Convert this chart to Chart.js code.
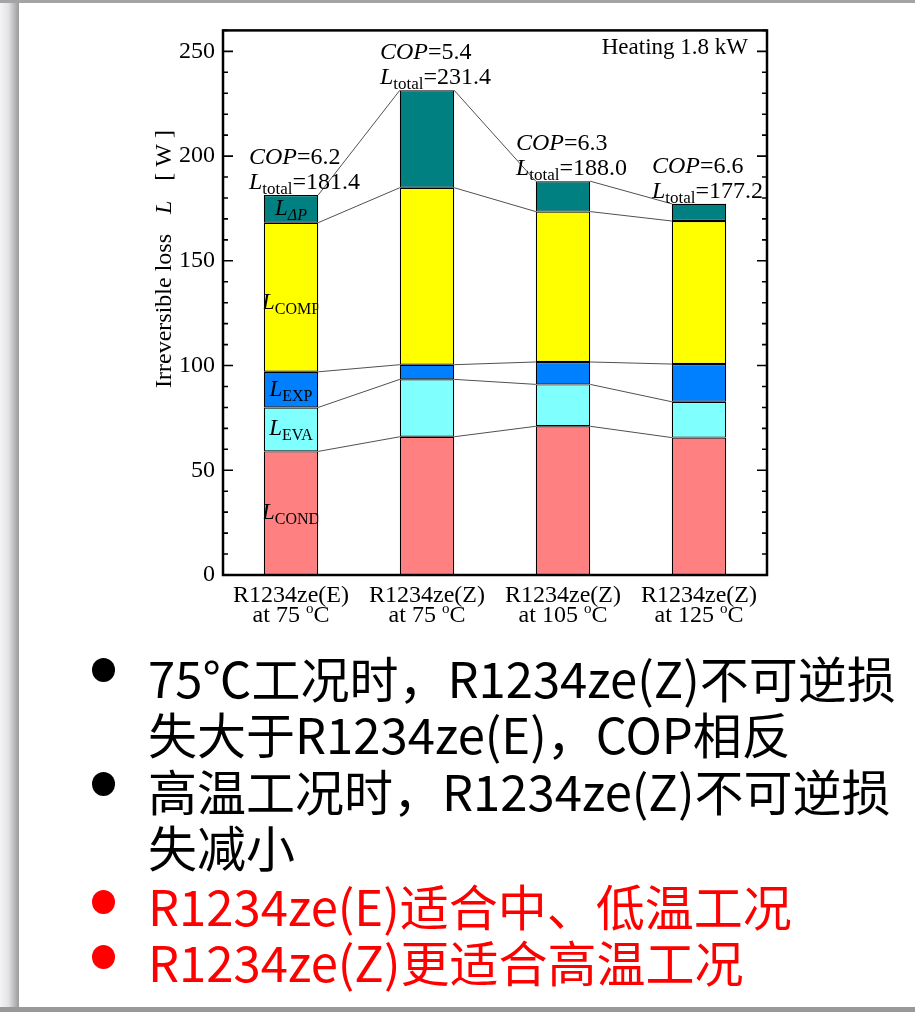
<!DOCTYPE html>
<html>
<head>
<meta charset="utf-8">
<script src="https://cdn.jsdelivr.net/npm/chart.js@4.4.1/dist/chart.umd.min.js"></script>
<style>
html, body { margin: 0; padding: 0; background: #fff; }
body { width: 915px; height: 1012px; position: relative; overflow: hidden; }
#edgeL { position: absolute; left: 0; top: 0; width: 19px; height: 1012px; background: linear-gradient(to right, #f4f4f6, #e2e2e6 45%, #9a9a9a); }
#edgeT { position: absolute; left: 0; top: 0; width: 915px; height: 3px; background: #a4a4a4; }
#edgeB { position: absolute; left: 0; top: 1007px; width: 915px; height: 5px; background: #999; }
#chart { position: absolute; left: 130px; top: 8px; }
.ln { position: absolute; left: 148px; font-family: "Noto Sans CJK SC"; font-size: 49px; line-height: 56px; white-space: nowrap; color: #000; }
.red { color: #f00; }
.dot { position: absolute; left: 92px; width: 23px; height: 24px; border-radius: 50%; background: #000; }
.dot.red { background: #f00; }
</style>
</head>
<body>
<div id="edgeL"></div>
<div id="edgeT"></div>
<div id="edgeB"></div>
<canvas id="chart" width="650" height="632"></canvas>

<div class="dot" style="top:658px"></div>
<div class="ln" style="top:649px">75℃工况时，R1234ze(Z)不可逆损</div>
<div class="ln" style="top:705px">失大于R1234ze(E)，COP相反</div>
<div class="dot" style="top:772px"></div>
<div class="ln" style="top:762px">高温工况时，R1234ze(Z)不可逆损</div>
<div class="ln" style="top:818px">失减小</div>
<div class="dot red" style="top:890px"></div>
<div class="ln red" style="top:877px">R1234ze(E)适合中、低温工况</div>
<div class="dot red" style="top:945px"></div>
<div class="ln red" style="top:933px">R1234ze(Z)更适合高温工况</div>

<script>
// refrigerant / condition for each bar
var labels = ['R1234ze(E)', 'R1234ze(Z)', 'R1234ze(Z)', 'R1234ze(Z)'];
var temps = ['75', '75', '105', '125'];

// irreversible loss parts, W (bottom to top)
var lCond = [59.0, 66.0, 71.0, 65.6];
var lEva  = [21.0, 27.4, 20.0, 17.1];
var lExp  = [17.0, 7.0, 10.7, 18.0];
var lComp = [71.2, 84.5, 71.8, 68.3];
var lAp   = [13.2, 46.5, 14.5, 8.2];

var cop    = ['6.2', '5.4', '6.3', '6.6'];
var lTotal = ['181.4', '231.4', '188.0', '177.2'];

var SERIF = '"Liberation Serif", "Times New Roman", serif';

function fnt(p) {
  return (p.i ? 'italic ' : '') + (p.s || 24) + 'px ' + SERIF;
}
// draw text made of several pieces (italic L, subscripts...)
function rich(ctx, parts, x, y, align) {
  var w = 0;
  parts.forEach(function(p) {
    ctx.font = fnt(p);
    p.w = p.gap != null ? p.gap : ctx.measureText(p.t).width;
    w += p.w;
  });
  var cx = align === 'center' ? x - w / 2 : (align === 'right' ? x - w : x);
  ctx.textAlign = 'left';
  ctx.textBaseline = 'alphabetic';
  parts.forEach(function(p) {
    if (p.gap == null) {
      ctx.font = fnt(p);
      ctx.fillText(p.t, cx, y + (p.dy || 0));
    }
    cx += p.w;
  });
}

var extras = {
  id: 'extras',
  afterDatasetsDraw: function(chart) {
    var ctx = chart.ctx;
    var n = chart.data.datasets.length;
    ctx.save();
    ctx.strokeStyle = '#505050';
    ctx.lineWidth = 1;
    // connecting lines between bars at each segment top
    for (var d = 0; d < n; d++) {
      var bars = chart.getDatasetMeta(d).data;
      for (var i = 0; i < bars.length - 1; i++) {
        var a = bars[i], b = bars[i + 1];
        ctx.beginPath();
        ctx.moveTo(a.x + a.width / 2, a.y);
        ctx.lineTo(b.x - b.width / 2, b.y);
        ctx.stroke();
      }
    }
    // segment names inside the first bar
    var subs = ['COND', 'EVA', 'EXP', 'COMP', 'ΔP'];
    var first = chart.getDatasetMeta(0).data[0];
    ctx.beginPath();
    ctx.rect(first.x - first.width / 2, 0, first.width, chart.height);
    ctx.clip();
    ctx.fillStyle = '#000';
    for (var k = 0; k < n; k++) {
      var el = chart.getDatasetMeta(k).data[0];
      var mid = (el.y + el.base) / 2;
      var dy = k === 3 ? 12 : 6;
      rich(ctx, [
        {t: 'L', i: true, s: 23},
        {t: subs[k], i: k === 4, s: 16, dy: 5}
      ], el.x, mid + dy, 'center');
    }
    ctx.restore();
  },
  afterDraw: function(chart) {
    var ctx = chart.ctx, ca = chart.chartArea;
    var ys = chart.scales.y, xs = chart.scales.x;
    ctx.save();
    ctx.strokeStyle = '#000';
    // inward tick marks on both sides
    ctx.lineWidth = 1.6;
    ys.ticks.forEach(function(t) {
      var y = ys.getPixelForValue(t.value);
      var len = t.value % 50 === 0 ? 10 : 5;
      ctx.beginPath();
      ctx.moveTo(ca.left, y); ctx.lineTo(ca.left + len, y);
      ctx.moveTo(ca.right, y); ctx.lineTo(ca.right - len, y);
      ctx.stroke();
    });
    // frame
    ctx.lineWidth = 2.5;
    ctx.strokeRect(ca.left, ca.top, ca.right - ca.left, ca.bottom - ca.top);

    ctx.fillStyle = '#000';
    // COP and total loss above each bar
    var tops = chart.getDatasetMeta(chart.data.datasets.length - 1).data;
    tops.forEach(function(el, i) {
      var x0 = el.x - (i === 0 ? 42 : 47);
      rich(ctx, [{t: 'COP', i: true}, {t: '=' + cop[i]}], x0, el.y - 31, 'left');
      rich(ctx, [{t: 'L', i: true}, {t: 'total', s: 17, dy: 5}, {t: '=' + lTotal[i]}], x0, el.y - 6, 'left');
    });
    // category labels, two lines
    labels.forEach(function(name, i) {
      var x = xs.getPixelForValue(i);
      rich(ctx, [{t: name, s: 24}], x, ca.bottom + 27, 'center');
      rich(ctx, [{t: 'at ' + temps[i] + ' ', s: 24}, {t: 'o', s: 15, dy: -9}, {t: 'C', s: 24}], x, ca.bottom + 47, 'center');
    });
    // heating note
    rich(ctx, [{t: 'Heating 1.8 kW', s: 23}], ca.right - 19, ca.top + 24, 'right');
    // y axis title
    ctx.translate(41, 251);
    ctx.rotate(-Math.PI / 2);
    rich(ctx, [
      {t: 'Irreversible loss', s: 24},
      {gap: 20},
      {t: 'L', i: true, s: 24},
      {gap: 20},
      {t: '[ W ]', s: 24}
    ], 0, 0, 'center');
    ctx.restore();
  }
};

function seg(label, data, color) {
  return {
    label: label,
    data: data,
    backgroundColor: color,
    borderColor: '#000',
    borderWidth: 1.2,
    borderSkipped: false,
    barPercentage: 0.4,
    categoryPercentage: 1.0
  };
}

new Chart(document.getElementById('chart'), {
  type: 'bar',
  data: {
    labels: labels,
    datasets: [
      seg('COND', lCond, '#ff8080'),
      seg('EVA', lEva, '#80ffff'),
      seg('EXP', lExp, '#0080ff'),
      seg('COMP', lComp, '#ffff00'),
      seg('AP', lAp, '#008080')
    ]
  },
  options: {
    responsive: false,
    animation: false,
    layout: { padding: { top: 10, right: 13, left: 0, bottom: 0 } },
    plugins: { legend: { display: false }, tooltip: { enabled: false } },
    scales: {
      x: {
        stacked: true,
        grid: { display: false },
        border: { display: false },
        ticks: { display: false },
        afterFit: function(s) { s.height = 65; }
      },
      y: {
        stacked: true,
        min: 0,
        max: 260,
        grid: { display: false, drawTicks: false },
        border: { display: false },
        ticks: {
          stepSize: 10,
          autoSkip: false,
          padding: 8,
          color: '#000',
          font: { family: SERIF, size: 24 },
          callback: function(v) { return v % 50 === 0 ? v : ''; }
        },
        afterFit: function(s) { s.width = 93; }
      }
    }
  },
  plugins: [extras]
});
</script>
</body>
</html>
